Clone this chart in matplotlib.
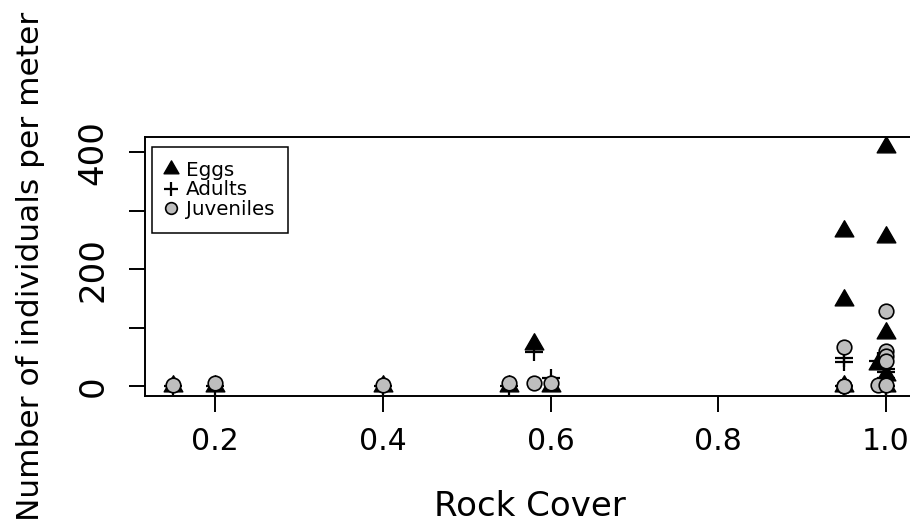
import matplotlib
matplotlib.use("Agg")
import matplotlib.pyplot as plt
from matplotlib.path import Path

# Datos (una fila por sitio)
rock_cover = [0.15, 0.20, 0.40, 0.55, 0.58, 0.60, 0.95, 0.95, 0.95, 0.99, 1.00, 1.00, 1.00, 1.00, 1.00]
eggs = [0, 0, 0, 0, 72, 0, 265, 148, 0, 38, 410, 255, 91, 20, 0]
adults = [0, 0, 0, 0, 58, 15, 49, 42, 0, 43, 29, 24, 15, 0, 0]
juveniles = [3, 5, 2, 5, 6, 6, 68, 0, 0, 3, 129, 60, 52, 43, 3]

x_ticks = [0.2, 0.4, 0.6, 0.8, 1.0]
y_ticks = [0, 100, 200, 300, 400]
y_tick_labels = ["0", "", "200", "", "400"]

# triangulo equilatero como el pch=17 de R
tri = Path([(0, 1.555), (1.347, -0.777), (-1.347, -0.777), (0, 1.555)],
           [Path.MOVETO, Path.LINETO, Path.LINETO, Path.CLOSEPOLY])

plt.rcParams["font.family"] = ["DejaVu Sans"]

fig = plt.figure(figsize=(9.1, 5.25), dpi=100)
ax = fig.add_axes([0.1593, 0.2457, 0.8456, 0.4933])

ax.plot(rock_cover, eggs, linestyle="none", marker=tri, markersize=15.5,
        color="black", label="Eggs", zorder=3)
ax.plot(rock_cover, adults, linestyle="none", marker="+", markersize=12.5,
        markeredgewidth=1.6, color="black", label="Adults", zorder=4)
ax.plot(rock_cover, juveniles, linestyle="none", marker="o", markersize=10.5,
        markerfacecolor="#bebebe", markeredgecolor="black", markeredgewidth=1.2,
        label="Juveniles", zorder=5)

ax.margins(x=0.04, y=0.04)
ax.set_xticks(x_ticks)
ax.set_xticklabels([f"{v:.1f}" for v in x_ticks])
ax.set_yticks(y_ticks)
ax.set_yticklabels(y_tick_labels, rotation=90, va="center")

for s in ax.spines.values():
    s.set_linewidth(1.4)
ax.tick_params(direction="out", length=11.5, width=1.4)
ax.tick_params(axis="x", labelsize=21.5, pad=10.5)
ax.tick_params(axis="y", labelsize=24.5, pad=14)

ax.set_xlabel("Rock Cover", fontsize=24.5, labelpad=25)
ax.set_ylabel("Number of individuals per meter", fontsize=22.5)
ax.yaxis.set_label_coords(-0.130, 0.5)

leg = ax.legend(loc="upper left", bbox_to_anchor=(0.0095, 0.960), borderaxespad=0,
                fontsize=14.3, fancybox=False, edgecolor="black", framealpha=1,
                handlelength=0.5, handletextpad=0.5, borderpad=0.68,
                labelspacing=0.03, markerscale=0.8)
leg.get_frame().set_linewidth(1.1)

fig.savefig("out.png", dpi=100)
